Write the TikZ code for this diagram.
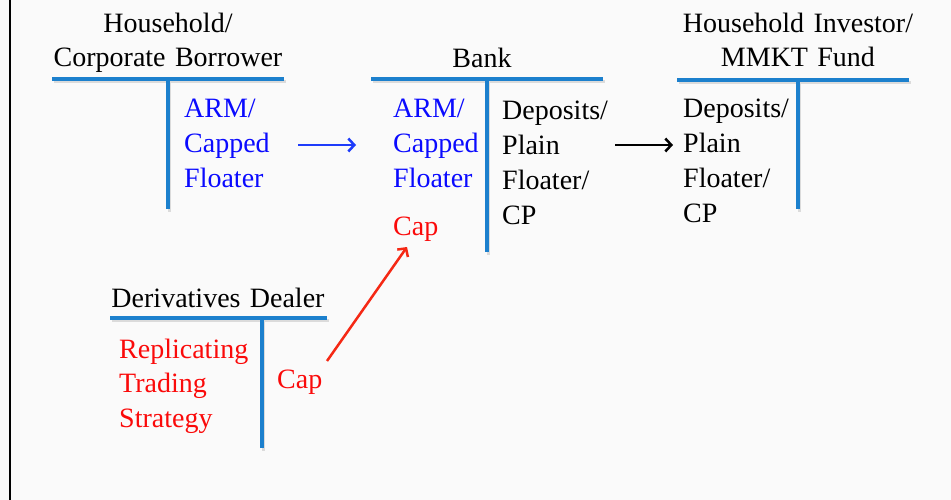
\documentclass[tikz,border=0pt]{standalone}
\usepackage{fontspec}
\setmainfont{Liberation Serif}
\usetikzlibrary{arrows.meta}
\definecolor{tline}{RGB}{28,128,205}
\definecolor{tblue}{RGB}{10,10,255}
\definecolor{tred}{RGB}{250,10,10}
\definecolor{ablue}{RGB}{30,60,250}
\definecolor{ared}{RGB}{245,40,20}
\definecolor{bgc}{RGB}{250,250,250}
\begin{document}
\begin{tikzpicture}[x=1pt,y=-1pt,
  col/.style={inner sep=0pt, font=\fontsize{28}{35}\selectfont, align=left,
              text width=160pt, anchor=base west},
  ttl/.style={inner sep=0pt, font=\fontsize{28}{34}\selectfont, align=center,
              text width=320pt, anchor=base},
  tacc/.style={line width=3.2pt, draw=tline},
  tshadow/.style={line width=3.6pt, draw=black, opacity=0.12},
  flow/.style={line width=2.5pt, -{Straight Barb[length=6pt,width=13pt]}}
]
\fill[bgc] (0,0) rectangle (951,500);
\useasboundingbox (0,0) rectangle (951,500);
\draw[line width=2pt] (10,0) -- (10,500);

% shadows of T accounts
\begin{scope}[shift={(1.5,2.5)}]
\draw[tshadow] (52,79) -- (284,79) (168,79) -- (168,209);
\draw[tshadow] (371,79) -- (603,79) (487,79) -- (487,252);
\draw[tshadow] (677,80) -- (909,80) (798,80) -- (798,209);
\draw[tshadow] (110,318) -- (327,318) (262,318) -- (262,448);
\end{scope}

% T accounts
\draw[tacc] (52,79) -- (284,79) (168,79) -- (168,209);
\draw[tacc] (371,79) -- (603,79) (487,79) -- (487,252);
\draw[tacc] (677,80) -- (909,80) (798,80) -- (798,209);
\draw[tacc] (110,318) -- (327,318) (262,318) -- (262,448);

% titles
\node[ttl] (hbt) at (168,33) {Household/\\Corporate Borrower};
\node[ttl] (bkt) at (482,68) {Bank};
\node[ttl] (hit) at (798,33) {Household Investor/\\MMKT Fund};
\node[ttl] (ddt) at (218,307) {Derivatives Dealer};

% columns
\node[col, text=tblue] (hba) at (184,118) {ARM/\\Capped\\Floater};
\node[col, text=tblue] (bka) at (393,118) {ARM/\\Capped\\Floater};
\node[col, text=tred] (bkc) at (393,235) {Cap};
\node[col] (bkl) at (502,120) {Deposits/\\Plain\\Floater/\\CP};
\node[col] (hia) at (683,118) {Deposits/\\Plain\\Floater/\\CP};
\node[col, text=tred, font=\fontsize{28}{34.5}\selectfont] (dda) at (119,358) {Replicating\\Trading\\Strategy};
\node[col, text=tred] (ddl) at (277,388) {Cap};

% connectors
\coordinate (b1s) at (298,145);
\coordinate (b1e) at (356,145);
\coordinate (k1s) at (615,145);
\coordinate (k1e) at (673,145);
\coordinate (r1s) at (327,361);
\coordinate (r1e) at (407,247);
\draw[flow, draw=ablue] (b1s) -- (b1e);
\draw[flow, draw=black] (k1s) -- (k1e);
\draw[flow, draw=ared] (r1s) -- (r1e);
\end{tikzpicture}
\end{document}
